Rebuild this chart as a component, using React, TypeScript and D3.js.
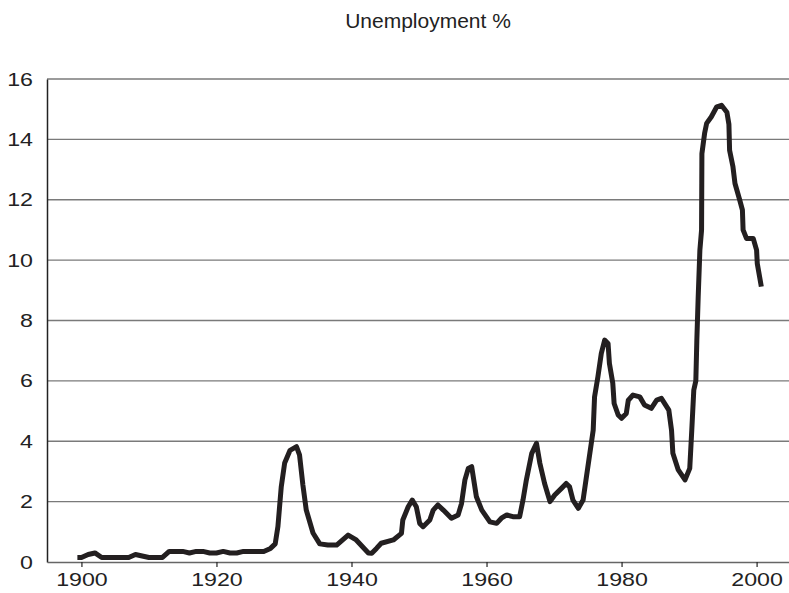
import { useEffect, useRef } from "react"
import * as d3 from "d3"

const title = "Unemployment %"

const years = [
    1899.4, 1900, 1901, 1902, 1903, 1904, 1905, 1906, 1907, 1908, 1909, 1910, 1911, 1912,
    1913, 1914, 1915, 1916, 1917, 1918, 1919, 1920, 1921, 1922, 1923, 1924, 1925, 1926, 1927,
    1928, 1928.7, 1929.1, 1929.6, 1930.1, 1930.9, 1931.85, 1932.3, 1932.8, 1933.3, 1934.3,
    1935.3, 1936.5, 1937.8, 1939.5, 1940.7, 1942.5, 1943, 1943.7, 1944.4, 1946.2, 1947.4,
    1947.6, 1948.4, 1949, 1949.6, 1950.1, 1950.6, 1951.6, 1952.1, 1952.8, 1953.6, 1954.8,
    1955.8, 1956.3, 1956.8, 1957.3, 1957.8, 1958.5, 1959.3, 1960.5, 1961.5, 1962.2, 1963,
    1963.9, 1964.9, 1965.4, 1965.9, 1966.7, 1967.4, 1967.9, 1968.6, 1969.4, 1970.1, 1971.1,
    1971.8, 1972.3, 1972.8, 1973.6, 1974.3, 1974.8, 1975.3, 1975.8, 1976.0, 1976.5, 1977.0,
    1977.5, 1978.0, 1978.2, 1978.7, 1978.9, 1979.5, 1980.0, 1980.7, 1981.0, 1981.7, 1982.7,
    1983.4, 1984.4, 1985.2, 1985.9, 1986.7, 1987.0, 1987.4, 1987.6, 1988.4, 1989.4, 1990.1,
    1990.4, 1990.7, 1991.0, 1991.15, 1991.35, 1991.6, 1991.85, 1991.9, 1992.3, 1992.6,
    1993.3, 1994.1, 1994.8, 1995.6, 1995.9, 1996.0, 1996.5, 1996.8, 1997.5, 1997.9, 1998.0,
    1998.5, 1999.5, 2000.0, 2000.1, 2000.7,
]

const unemployment = [
    0.15, 0.15, 0.25, 0.3, 0.15, 0.15, 0.15, 0.15, 0.15, 0.25, 0.2, 0.15, 0.15, 0.15,
    0.35, 0.35, 0.35, 0.3, 0.35, 0.35, 0.3, 0.3, 0.35, 0.3, 0.3, 0.35, 0.35, 0.35, 0.35,
    0.45, 0.6, 1.17, 2.5, 3.28, 3.7, 3.82, 3.55, 2.55, 1.72, 0.96,
    0.6, 0.56, 0.56, 0.89, 0.73, 0.3, 0.29, 0.45, 0.62, 0.73, 0.95,
    1.39, 1.83, 2.05, 1.83, 1.28, 1.17, 1.39, 1.72, 1.89, 1.72, 1.45,
    1.56, 1.94, 2.72, 3.1, 3.16, 2.16, 1.72, 1.33, 1.28, 1.45, 1.56,
    1.5, 1.5, 2.05, 2.72, 3.6, 3.93, 3.27, 2.6, 2.0, 2.22, 2.44,
    2.6, 2.49, 2.05, 1.78, 2.05, 2.83, 3.6, 4.37, 5.47, 6.14, 6.91,
    7.35, 7.24, 6.58, 5.92, 5.25, 4.87, 4.76, 4.92, 5.36, 5.53, 5.47,
    5.2, 5.09, 5.36, 5.42, 5.14, 5.03, 4.37, 3.6, 3.05, 2.72, 3.1,
    4.37, 5.7, 6.0, 7.35, 8.78, 10.33, 11.0, 13.53, 14.2, 14.53,
    14.75, 15.08, 15.13, 14.9, 14.5, 13.64, 13.09, 12.54, 11.99, 11.66, 11.0,
    10.72, 10.72, 10.33, 9.89, 9.12,
]

const yTicks = [0, 2, 4, 6, 8, 10, 12, 14, 16]
const xTicks = [1900, 1920, 1940, 1960, 1980, 2000]

const W = 789
const H = 593
const FONT = "Liberation Sans, Arial, sans-serif"

// tick labels in the original are a bit wider than plain Arial
function stretchText(sel: d3.Selection<any, any, any, any>, factor: number) {
    sel.each(function () {
        const el = this as SVGTextElement
        const len = el.getComputedTextLength()
        el.setAttribute("textLength", String(len * factor))
        el.setAttribute("lengthAdjust", "spacingAndGlyphs")
    })
}

export default function App() {
    const svgRef = useRef<SVGSVGElement | null>(null)

    useEffect(() => {
        if (!svgRef.current) return
        const margin = { top: 79, right: 0, bottom: 31, left: 47 }
        const innerWidth = W - margin.left - margin.right
        const innerHeight = H - margin.top - margin.bottom

        const svg = d3.select(svgRef.current)
        svg.selectAll("*").remove()

        const x = d3.scaleLinear().domain([1894.9, 2004.8]).range([0, innerWidth])
        const y = d3.scaleLinear().domain([0, 16]).range([innerHeight, 0])

        const g = svg.append("g").attr("transform", `translate(${margin.left},${margin.top})`)

        // gridlines
        g.append("g")
            .selectAll("line")
            .data(yTicks.filter((t) => t > 0))
            .enter()
            .append("line")
            .attr("x1", 0)
            .attr("x2", innerWidth)
            .attr("y1", (d) => y(d))
            .attr("y2", (d) => y(d))
            .attr("stroke", "#7a7a7a")
            .attr("stroke-width", 1.3)

        // y axis
        const yAxis = g.append("g").call(d3.axisLeft(y).tickValues(yTicks).tickSize(0).tickPadding(14))
        yAxis.select(".domain").attr("stroke", "#222").attr("stroke-width", 1.5)
        const yText = yAxis.selectAll("text")
            .attr("font-family", FONT)
            .attr("font-size", 19)
            .attr("fill", "#222")
        stretchText(yText, 1.22)

        // x axis
        const xAxis = g
            .append("g")
            .attr("transform", `translate(0,${innerHeight})`)
            .call(d3.axisBottom(x).tickValues(xTicks).tickFormat(d3.format("d")).tickSize(5).tickSizeOuter(0).tickPadding(6))
        xAxis.select(".domain").attr("stroke", "#666").attr("stroke-width", 1.5)
        xAxis.selectAll(".tick line").attr("stroke", "#222").attr("stroke-width", 1.2)
        const xText = xAxis.selectAll("text")
            .attr("font-family", FONT)
            .attr("font-size", 19)
            .attr("fill", "#222")
        stretchText(xText, 1.22)

        const line = d3
            .line<number>()
            .x((_, i) => x(years[i]))
            .y((d) => y(d))

        g.append("path")
            .datum(unemployment)
            .attr("fill", "none")
            .attr("stroke", "#231f20")
            .attr("stroke-width", 5)
            .attr("stroke-linejoin", "round")
            .attr("d", line)

        svg.append("text")
            .attr("x", 428)
            .attr("y", 28)
            .attr("text-anchor", "middle")
            .attr("font-family", FONT)
            .attr("font-size", 21)
            .attr("fill", "#222")
            .text(title)
    }, [])

    return (
        <div style={{ position: "fixed", left: 0, top: 0 }}>
            <svg ref={svgRef} width={W} height={H} style={{ display: "block", background: "#fff" }} />
        </div>
    )
}
